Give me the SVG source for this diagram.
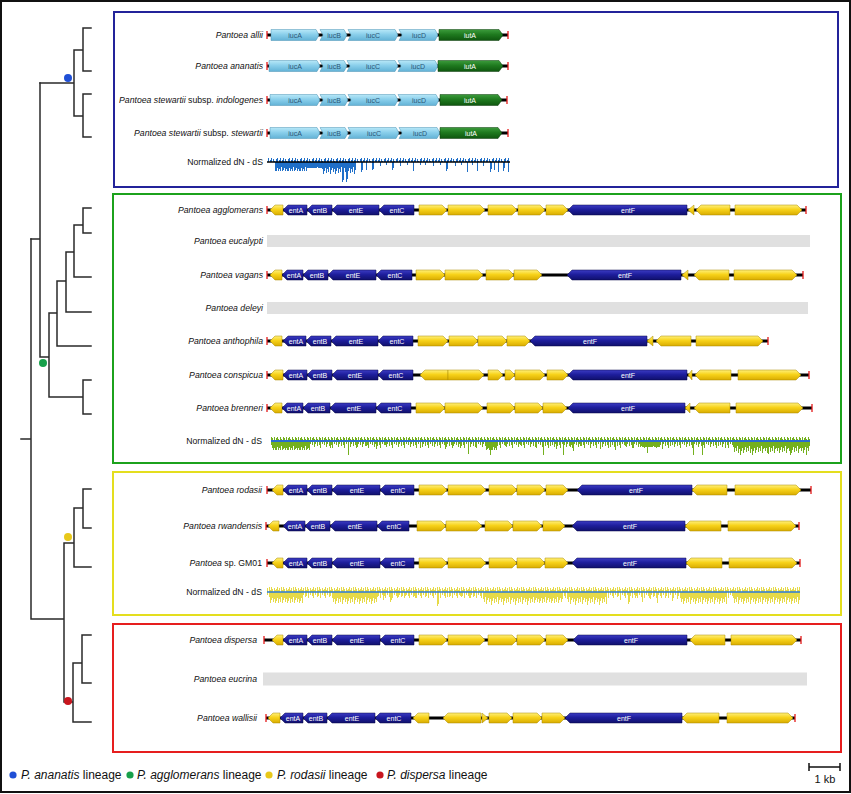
<svg xmlns="http://www.w3.org/2000/svg" width="851" height="794" viewBox="0 0 851 794">
<style>
text{font-family:"Liberation Sans",Arial,sans-serif}
.sp{font-size:8.7px;font-style:italic;text-anchor:end;fill:#111}
.up{font-style:normal}
.nd{font-size:8.7px;text-anchor:end;fill:#111}
.gl{font-size:7px;text-anchor:middle;fill:#fff}
.gd{font-size:7px;text-anchor:middle;fill:#2a5677}
.y{fill:url(#gy);stroke:#a88a00;stroke-width:0.5}
.b{fill:url(#gb);stroke:#08084a;stroke-width:0.5}
.lb{fill:url(#glb);stroke:#4b93b5;stroke-width:0.5}
.dg{fill:url(#gdg);stroke:#0a3a0a;stroke-width:0.5}
.bk{stroke:#000;stroke-width:3}
.rt{stroke:#e41a1a;stroke-width:1.3;fill:none}
.gray{fill:#e0e0e0}
.tr{stroke:#2a2a2a;stroke-width:1.5;fill:none;stroke-linecap:square}
.box{fill:none;stroke-width:2}
.lg{font-size:12px;fill:#111}
.bb{stroke:#1f6fc8;stroke-width:1;fill:none}
.bg{stroke:#74b01e;stroke-width:1;fill:none}
.by{stroke:#e6da48;stroke-width:1;fill:none}
</style>
<defs>
<linearGradient id="gy" x1="0" y1="0" x2="0" y2="1"><stop offset="0" stop-color="#fff07a"/><stop offset="0.45" stop-color="#f7d21a"/><stop offset="1" stop-color="#d9ac00"/></linearGradient>
<linearGradient id="gb" x1="0" y1="0" x2="0" y2="1"><stop offset="0" stop-color="#3c3cc4"/><stop offset="0.45" stop-color="#1e1e9c"/><stop offset="1" stop-color="#10106c"/></linearGradient>
<linearGradient id="glb" x1="0" y1="0" x2="0" y2="1"><stop offset="0" stop-color="#b8e8f8"/><stop offset="0.45" stop-color="#8acfeb"/><stop offset="1" stop-color="#62b2d6"/></linearGradient>
<linearGradient id="gdg" x1="0" y1="0" x2="0" y2="1"><stop offset="0" stop-color="#3c9c3c"/><stop offset="0.45" stop-color="#1f7a1f"/><stop offset="1" stop-color="#0e560e"/></linearGradient>
<pattern id="pub" width="12" height="6" y="-6" patternUnits="userSpaceOnUse"><path class="bb" d="M0.5 6v-3M1.5 6v-5M3.5 6v-2M4.5 6v-4M6.5 6v-2M7.5 6v-5M9.5 6v-3M10.5 6v-1"/></pattern>
<pattern id="pug" width="12" height="6" y="-6" patternUnits="userSpaceOnUse"><path class="bg" d="M0.5 6v-3M1.5 6v-5M2.5 6v-2M4.5 6v-4M5.5 6v-2M7.5 6v-5M8.5 6v-3M10.5 6v-4M11.5 6v-1"/></pattern>
<pattern id="puy" width="12" height="6" y="-6" patternUnits="userSpaceOnUse"><path class="by" d="M0.5 6v-3M1.5 6v-5M2.5 6v-2M3.5 6v-4M5.5 6v-5M6.5 6v-2M7.5 6v-5M8.5 6v-3M10.5 6v-4M11.5 6v-2"/></pattern>
<pattern id="plb" width="12" height="16" patternUnits="userSpaceOnUse"><path class="bb" d="M0.5 0v9M1.5 0v6M2.5 0v11M3.5 0v7M4.5 0v10M5.5 0v5M6.5 0v12M7.5 0v8M8.5 0v6M9.5 0v10M10.5 0v7M11.5 0v13"/></pattern>
<pattern id="plg" width="12" height="16" patternUnits="userSpaceOnUse"><path class="bg" d="M0.5 0v9M1.5 0v6M2.5 0v11M3.5 0v7M4.5 0v10M5.5 0v5M6.5 0v12M7.5 0v8M8.5 0v6M9.5 0v10M10.5 0v7M11.5 0v13"/></pattern>
<pattern id="ply" width="12" height="16" patternUnits="userSpaceOnUse"><path class="by" d="M0.5 0v9M1.5 0v6M2.5 0v11M3.5 0v7M4.5 0v10M5.5 0v5M6.5 0v12M7.5 0v8M8.5 0v6M9.5 0v10M10.5 0v7M11.5 0v13"/></pattern>
<pattern id="psg" width="12" height="16" patternUnits="userSpaceOnUse"><path class="bg" d="M0.5 0v4M2.5 0v6M3.5 0v3M5.5 0v5M7.5 0v4M8.5 0v7M10.5 0v3"/></pattern>
<pattern id="psy" width="12" height="16" patternUnits="userSpaceOnUse"><path class="by" d="M0.5 0v4M1.5 0v6M3.5 0v3M5.5 0v5M6.5 0v4M8.5 0v7M10.5 0v3"/></pattern>
</defs>
<rect x="0" y="0" width="851" height="794" fill="#fff"/>
<rect x="1" y="1" width="849" height="791" fill="none" stroke="#111" stroke-width="2"/>

<!-- phylogenetic tree -->
<g id="tree" class="tr">
<path d="M83,28H91M83,71H91M83,28V71M74,50H83M83,94H91M83,137H91M83,94V137M74,116H83M74,50V116M40,83H74"/>
<path d="M83,208H91M83,233H91M83,208V233M74,225H83M74,277H91M74,225V277M66,252H74M66,312H91M66,252V312M57,281H66M57,346H91M57,281V346M49,313H57M83,380H91M83,414H91M83,380V414M49,397H83M49,313V397M40,357H49M40,83V357M31,239H40"/>
<path d="M31,239V619M21,439H31M31,619H64M64,543V702M64,543H74M74,508V567M74,508H83M83,489V528M83,489H91M83,528H91M74,567H91M64,702H73M73,663V722M73,663H82M82,635V683M82,635H91M82,683H91M73,722H91"/>
</g>
<g id="clade-dots">
<circle cx="68" cy="78" r="4" fill="#1f4fd6"/>
<circle cx="43" cy="363" r="4" fill="#17a04a"/>
<circle cx="68" cy="537" r="4" fill="#e8c81a"/>
<circle cx="68" cy="701" r="4" fill="#c8161e"/>
</g>

<!-- lineage boxes -->
<g id="box-ananatis"><rect class="box" x="114" y="12" width="724" height="175" stroke="#23239a"/></g>
<g id="box-agglomerans"><rect class="box" x="113" y="194" width="728" height="269" stroke="#1ca21c"/></g>
<g id="box-rodasii"><rect class="box" x="113" y="472" width="728" height="143" stroke="#e4de1e"/></g>
<g id="box-dispersa"><rect class="box" x="113" y="624" width="728" height="128" stroke="#e61e1e"/></g>

<!-- P. ananatis lineage: iuc/iut cluster -->
<g id="row-allii" transform="translate(0,35)">
<text class="sp" x="263" y="3">Pantoea allii</text>
<line class="bk" x1="267" x2="508"/>
<polygon class="lb" points="271,-5.5 316,-5.5 319,0 316,5.5 271,5.5"/>
<polygon class="lb" points="320,-5.5 344,-5.5 347,0 344,5.5 320,5.5 323,0"/>
<polygon class="lb" points="348,-5.5 395,-5.5 398,0 395,5.5 348,5.5 351,0"/>
<polygon class="lb" points="399,-5.5 435,-5.5 438,0 435,5.5 399,5.5 402,0"/>
<polygon class="dg" points="439,-5.5 499,-5.5 503,0 499,5.5 439,5.5"/>
<text class="gd" x="295" y="2.5">iucA</text><text class="gd" x="334" y="2.5">iucB</text><text class="gd" x="373" y="2.5">iucC</text><text class="gd" x="419" y="2.5">iucD</text><text class="gl" x="470" y="2.5">iutA</text>
<path class="rt" d="M267,-4V4M508,-4V4"/>
</g>
<g id="row-ananatis" transform="translate(0,66)">
<text class="sp" x="263" y="3">Pantoea ananatis</text>
<line class="bk" x1="267" x2="508"/>
<polygon class="lb" points="269,-5.5 317,-5.5 320,0 317,5.5 269,5.5"/>
<polygon class="lb" points="320,-5.5 344,-5.5 347,0 344,5.5 320,5.5 323,0"/>
<polygon class="lb" points="347,-5.5 395,-5.5 398,0 395,5.5 347,5.5 350,0"/>
<polygon class="lb" points="398,-5.5 435,-5.5 438,0 435,5.5 398,5.5 401,0"/>
<polygon class="dg" points="438,-5.5 499,-5.5 503,0 499,5.5 438,5.5"/>
<text class="gd" x="295" y="2.5">iucA</text><text class="gd" x="334" y="2.5">iucB</text><text class="gd" x="373" y="2.5">iucC</text><text class="gd" x="418" y="2.5">iucD</text><text class="gl" x="470" y="2.5">iutA</text>
<path class="rt" d="M267,-4V4M508,-4V4"/>
</g>
<g id="row-indologenes" transform="translate(0,100)">
<text class="sp" x="263" y="3">Pantoea stewartii <tspan class="up">subsp.</tspan> indologenes</text>
<line class="bk" x1="267" x2="507"/>
<polygon class="lb" points="270,-5.5 317,-5.5 320,0 317,5.5 270,5.5"/>
<polygon class="lb" points="320,-5.5 345,-5.5 348,0 345,5.5 320,5.5 323,0"/>
<polygon class="lb" points="348,-5.5 395,-5.5 398,0 395,5.5 348,5.5 351,0"/>
<polygon class="lb" points="398,-5.5 436,-5.5 439,0 436,5.5 398,5.5 401,0"/>
<polygon class="dg" points="440,-5.5 498,-5.5 502,0 498,5.5 440,5.5"/>
<text class="gd" x="295" y="2.5">iucA</text><text class="gd" x="334" y="2.5">iucB</text><text class="gd" x="373" y="2.5">iucC</text><text class="gd" x="419" y="2.5">iucD</text><text class="gl" x="470" y="2.5">iutA</text>
<path class="rt" d="M267,-4V4M507,-4V4"/>
</g>
<g id="row-stewartii" transform="translate(0,133)">
<text class="sp" x="263" y="3">Pantoea stewartii <tspan class="up">subsp.</tspan> stewartii</text>
<line class="bk" x1="267" x2="508"/>
<polygon class="lb" points="270,-5.5 317,-5.5 320,0 317,5.5 270,5.5"/>
<polygon class="lb" points="320,-5.5 345,-5.5 348,0 345,5.5 320,5.5 323,0"/>
<polygon class="lb" points="348,-5.5 396,-5.5 399,0 396,5.5 348,5.5 351,0"/>
<polygon class="lb" points="399,-5.5 437,-5.5 440,0 437,5.5 399,5.5 402,0"/>
<polygon class="dg" points="440,-5.5 498,-5.5 502,0 498,5.5 440,5.5"/>
<text class="gd" x="295" y="2.5">iucA</text><text class="gd" x="334" y="2.5">iucB</text><text class="gd" x="374" y="2.5">iucC</text><text class="gd" x="420" y="2.5">iucD</text><text class="gl" x="471" y="2.5">iutA</text>
<path class="rt" d="M267,-4V4M508,-4V4"/>
</g>
<g id="dnds-ananatis" transform="translate(0,162)">
<text class="nd" x="263" y="3">Normalized dN - dS</text>
<rect x="268" y="-4" width="242" height="4" fill="url(#pub)"/>
<rect x="275" y="0" width="32" height="9" fill="url(#plb)"/>
<rect x="307" y="0" width="15" height="6" fill="url(#plb)"/>
<rect x="322" y="0" width="34" height="12" fill="url(#plb)"/>
<path class="bb" d="M342.5 0v20M343.5 0v18M346.5 0v20M347.5 0v17M361.5 0v10M362.5 0v8M366.5 0v8M372.5 0v8M373.5 0v7M380.5 0v4M386.5 0v3M392.5 0v8M393.5 0v6M400.5 0v4M407.5 0v3M413.5 0v9M420.5 0v3M425.5 0v3M433.5 0v4M440.5 0v3M446.5 0v9M447.5 0v7M455.5 0v4M461.5 0v3M467.5 0v10M472.5 0v3M477.5 0v9M483.5 0v4M490.5 0v10M491.5 0v7M494.5 0v8M498.5 0v10M503.5 0v9M504.5 0v6M508.5 0v10"/>
<line x1="267" x2="510" stroke="#000" stroke-width="1.5"/>
</g>

<!-- P. agglomerans lineage: ent cluster -->
<g id="row-agglomerans" transform="translate(0,210)">
<text class="sp" x="263" y="3">Pantoea agglomerans</text>
<line class="bk" x1="267" x2="806"/>
<polygon class="y" points="270,0 275,-5 283,-5 283,5 275,5"/>
<polygon class="b" points="283,0 288,-5 307,-5 307,5 288,5"/>
<polygon class="b" points="307,0 312,-5 332,-5 332,5 312,5"/>
<polygon class="b" points="332,0 337,-5 379,-5 379,5 337,5"/>
<polygon class="b" points="379,0 384,-5 414,-5 414,5 384,5"/>
<polygon class="y" points="419,-5 442,-5 447,0 442,5 419,5"/>
<polygon class="y" points="448,-5 480,-5 485,0 480,5 448,5"/>
<polygon class="y" points="488,-5 512,-5 517,0 512,5 488,5"/>
<polygon class="y" points="518,-5 540,-5 545,0 540,5 518,5"/>
<polygon class="y" points="546,-5 563,-5 568,0 563,5 546,5"/>
<polygon class="b" points="568,0 573,-5 687,-5 687,5 573,5"/>
<polygon class="y" points="688,0 694,-5 694,5"/>
<polygon class="y" points="696,0 701,-5 730,-5 730,5 701,5"/>
<polygon class="y" points="735,-5 797,-5 802,0 797,5 735,5"/>
<text class="gl" x="296" y="2.5">entA</text><text class="gl" x="320" y="2.5">entB</text><text class="gl" x="356" y="2.5">entE</text><text class="gl" x="397" y="2.5">entC</text><text class="gl" x="628" y="2.5">entF</text>
<path class="rt" d="M267,-4V4M806,-4V4"/>
</g>
<g id="row-eucalypti" transform="translate(0,241)">
<text class="sp" x="263" y="3">Pantoea eucalypti</text>
<rect class="gray" x="267" y="-6" width="543" height="12"/>
</g>
<g id="row-vagans" transform="translate(0,275)">
<text class="sp" x="263" y="3">Pantoea vagans</text>
<line class="bk" x1="267" x2="803"/>
<polygon class="y" points="270,0 275,-5 282,-5 282,5 275,5"/>
<polygon class="b" points="282,0 287,-5 303,-5 303,5 287,5"/>
<polygon class="b" points="303,0 308,-5 328,-5 328,5 308,5"/>
<polygon class="b" points="328,0 333,-5 376,-5 376,5 333,5"/>
<polygon class="b" points="376,0 381,-5 412,-5 412,5 381,5"/>
<polygon class="y" points="416,-5 440,-5 445,0 440,5 416,5"/>
<polygon class="y" points="445,-5 478,-5 483,0 478,5 445,5"/>
<polygon class="y" points="486,-5 509,-5 514,0 509,5 486,5"/>
<polygon class="y" points="514,-5 537,-5 542,0 537,5 514,5"/>
<polygon class="b" points="567,0 572,-5 681,-5 681,5 572,5"/>
<polygon class="y" points="682,0 688,-5 688,5"/>
<polygon class="y" points="694,0 699,-5 729,-5 729,5 699,5"/>
<polygon class="y" points="734,-5 792,-5 797,0 792,5 734,5"/>
<text class="gl" x="294" y="2.5">entA</text><text class="gl" x="317" y="2.5">entB</text><text class="gl" x="353" y="2.5">entE</text><text class="gl" x="395" y="2.5">entC</text><text class="gl" x="625" y="2.5">entF</text>
<path class="rt" d="M267,-4V4M803,-4V4"/>
</g>
<g id="row-deleyi" transform="translate(0,308)">
<text class="sp" x="263" y="3">Pantoea deleyi</text>
<rect class="gray" x="267" y="-6" width="541" height="12"/>
</g>
<g id="row-anthophila" transform="translate(0,341)">
<text class="sp" x="263" y="3">Pantoea anthophila</text>
<line class="bk" x1="267" x2="768"/>
<polygon class="y" points="270,0 275,-5 282,-5 282,5 275,5"/>
<polygon class="b" points="283,0 288,-5 306,-5 306,5 288,5"/>
<polygon class="b" points="306,0 311,-5 331,-5 331,5 311,5"/>
<polygon class="b" points="331,0 336,-5 378,-5 378,5 336,5"/>
<polygon class="b" points="378,0 383,-5 413,-5 413,5 383,5"/>
<polygon class="y" points="418,-5 443,-5 448,0 443,5 418,5"/>
<polygon class="y" points="449,-5 473,-5 478,0 473,5 449,5"/>
<polygon class="y" points="478,-5 502,-5 507,0 502,5 478,5"/>
<polygon class="y" points="507,-5 525,-5 530,0 525,5 507,5"/>
<polygon class="b" points="530,0 535,-5 647,-5 647,5 535,5"/>
<polygon class="y" points="647,0 653,-5 653,5"/>
<polygon class="y" points="656,0 661,-5 691,-5 691,5 661,5"/>
<polygon class="y" points="696,-5 758,-5 763,0 758,5 696,5"/>
<text class="gl" x="296" y="2.5">entA</text><text class="gl" x="320" y="2.5">entB</text><text class="gl" x="356" y="2.5">entE</text><text class="gl" x="397" y="2.5">entC</text><text class="gl" x="590" y="2.5">entF</text>
<path class="rt" d="M267,-4V4M768,-4V4"/>
</g>
<g id="row-conspicua" transform="translate(0,375)">
<text class="sp" x="263" y="3">Pantoea conspicua</text>
<line class="bk" x1="267" x2="809"/>
<polygon class="y" points="270,0 275,-5 283,-5 283,5 275,5"/>
<polygon class="b" points="283,0 288,-5 307,-5 307,5 288,5"/>
<polygon class="b" points="307,0 312,-5 332,-5 332,5 312,5"/>
<polygon class="b" points="332,0 337,-5 378,-5 378,5 337,5"/>
<polygon class="b" points="378,0 383,-5 413,-5 413,5 383,5"/>
<polygon class="y" points="420,0 425,-5 448,-5 448,5 425,5"/>
<polygon class="y" points="448,-5 479,-5 484,0 479,5 448,5"/>
<polygon class="y" points="488,-5 498,-5 503,0 498,5 488,5"/>
<polygon class="y" points="505,-5 510,-5 515,0 510,5 505,5"/>
<polygon class="y" points="515,-5 540,-5 545,0 540,5 515,5"/>
<polygon class="y" points="547,-5 563,-5 568,0 563,5 547,5"/>
<polygon class="b" points="568,0 573,-5 687,-5 687,5 573,5"/>
<polygon class="y" points="688,0 692,-5 692,5"/>
<polygon class="y" points="695,0 700,-5 731,-5 731,5 700,5"/>
<polygon class="y" points="738,-5 796,-5 801,0 796,5 738,5"/>
<text class="gl" x="296" y="2.5">entA</text><text class="gl" x="320" y="2.5">entB</text><text class="gl" x="355" y="2.5">entE</text><text class="gl" x="396" y="2.5">entC</text><text class="gl" x="628" y="2.5">entF</text>
<path class="rt" d="M267,-4V4M809,-4V4"/>
</g>
<g id="row-brenneri" transform="translate(0,408)">
<text class="sp" x="263" y="3">Pantoea brenneri</text>
<line class="bk" x1="267" x2="812"/>
<polygon class="y" points="270,0 275,-5 282,-5 282,5 275,5"/>
<polygon class="b" points="282,0 287,-5 303,-5 303,5 287,5"/>
<polygon class="b" points="303,0 308,-5 330,-5 330,5 308,5"/>
<polygon class="b" points="330,0 335,-5 376,-5 376,5 335,5"/>
<polygon class="b" points="376,0 381,-5 411,-5 411,5 381,5"/>
<polygon class="y" points="416,-5 440,-5 445,0 440,5 416,5"/>
<polygon class="y" points="445,-5 478,-5 483,0 478,5 445,5"/>
<polygon class="y" points="487,-5 510,-5 515,0 510,5 487,5"/>
<polygon class="y" points="515,-5 538,-5 543,0 538,5 515,5"/>
<polygon class="y" points="543,-5 562,-5 567,0 562,5 543,5"/>
<polygon class="b" points="568,0 573,-5 685,-5 685,5 573,5"/>
<polygon class="y" points="685,0 690,-5 690,5"/>
<polygon class="y" points="694,0 699,-5 730,-5 730,5 699,5"/>
<polygon class="y" points="736,-5 798,-5 803,0 798,5 736,5"/>
<text class="gl" x="294" y="2.5">entA</text><text class="gl" x="318" y="2.5">entB</text><text class="gl" x="354" y="2.5">entE</text><text class="gl" x="395" y="2.5">entC</text><text class="gl" x="628" y="2.5">entF</text>
<path class="rt" d="M267,-4V4M812,-4V4"/>
</g>
<g id="dnds-agglomerans" transform="translate(0,441)">
<text class="nd" x="262" y="3">Normalized dN - dS</text>
<rect x="271" y="-4" width="539" height="4" fill="url(#pug)"/>
<rect x="271" y="0" width="539" height="7" fill="url(#psg)"/>
<rect x="272" y="0" width="38" height="9" fill="url(#plg)"/>
<rect x="485" y="0" width="12" height="9" fill="url(#plg)"/>
<rect x="640" y="0" width="20" height="6" fill="url(#plg)"/>
<rect x="733" y="0" width="77" height="12" fill="url(#plg)"/>
<path class="bg" d="M330.5 0v7M348.5 0v14M357.5 0v6M366.5 0v5M376.5 0v8M385.5 0v4M398.5 0v6M410.5 0v5M420.5 0v7M432.5 0v5M445.5 0v8M453.5 0v5M460.5 0v7M468.5 0v13M475.5 0v6M490.5 0v14M505.5 0v5M512.5 0v7M520.5 0v4M535.5 0v6M543.5 0v14M550.5 0v5M556.5 0v8M563.5 0v14M570.5 0v6M573.5 0v10M580.5 0v5M590.5 0v7M600.5 0v8M610.5 0v6M615.5 0v9M625.5 0v5M633.5 0v7M647.5 0v12M655.5 0v6M662.5 0v8M670.5 0v5M680.5 0v6M693.5 0v14M702.5 0v14M710.5 0v6M718.5 0v5M725.5 0v7M740.5 0v14M752.5 0v14M768.5 0v13M790.5 0v14M806.5 0v14"/>
<line x1="271" x2="810" stroke="#2a6ad0" stroke-width="2"/>
</g>

<!-- P. rodasii lineage -->
<g id="row-rodasii" transform="translate(0,490)">
<text class="sp" x="262" y="3">Pantoea rodasii</text>
<line class="bk" x1="267" x2="811"/>
<polygon class="y" points="272,0 277,-5 283,-5 283,5 277,5"/>
<polygon class="b" points="283,0 288,-5 307,-5 307,5 288,5"/>
<polygon class="b" points="307,0 312,-5 332,-5 332,5 312,5"/>
<polygon class="b" points="332,0 337,-5 380,-5 380,5 337,5"/>
<polygon class="b" points="380,0 385,-5 414,-5 414,5 385,5"/>
<polygon class="y" points="419,-5 442,-5 447,0 442,5 419,5"/>
<polygon class="y" points="448,-5 481,-5 486,0 481,5 448,5"/>
<polygon class="y" points="489,-5 512,-5 517,0 512,5 489,5"/>
<polygon class="y" points="517,-5 540,-5 545,0 540,5 517,5"/>
<polygon class="y" points="546,-5 563,-5 568,0 563,5 546,5"/>
<polygon class="b" points="577,0 582,-5 692,-5 692,5 582,5"/>
<polygon class="y" points="692,0 697,-5 727,-5 727,5 697,5"/>
<polygon class="y" points="735,-5 796,-5 801,0 796,5 735,5"/>
<text class="gl" x="296" y="2.5">entA</text><text class="gl" x="320" y="2.5">entB</text><text class="gl" x="357" y="2.5">entE</text><text class="gl" x="398" y="2.5">entC</text><text class="gl" x="636" y="2.5">entF</text>
<path class="rt" d="M267,-4V4M811,-4V4"/>
</g>
<g id="row-rwandensis" transform="translate(0,526)">
<text class="sp" x="262" y="3">Pantoea rwandensis</text>
<line class="bk" x1="266" x2="799"/>
<polygon class="y" points="268,0 273,-5 279,-5 279,5 273,5"/>
<polygon class="b" points="283,0 288,-5 305,-5 305,5 288,5"/>
<polygon class="b" points="305,0 310,-5 330,-5 330,5 310,5"/>
<polygon class="b" points="330,0 335,-5 377,-5 377,5 335,5"/>
<polygon class="b" points="377,0 382,-5 409,-5 409,5 382,5"/>
<polygon class="y" points="417,-5 441,-5 446,0 441,5 417,5"/>
<polygon class="y" points="446,-5 477,-5 482,0 477,5 446,5"/>
<polygon class="y" points="485,-5 508,-5 513,0 508,5 485,5"/>
<polygon class="y" points="513,-5 537,-5 542,0 537,5 513,5"/>
<polygon class="y" points="543,-5 560,-5 565,0 560,5 543,5"/>
<polygon class="b" points="572,0 577,-5 685,-5 685,5 577,5"/>
<polygon class="y" points="685,0 690,-5 721,-5 721,5 690,5"/>
<polygon class="y" points="728,-5 791,-5 796,0 791,5 728,5"/>
<text class="gl" x="295" y="2.5">entA</text><text class="gl" x="318" y="2.5">entB</text><text class="gl" x="355" y="2.5">entE</text><text class="gl" x="394" y="2.5">entC</text><text class="gl" x="630" y="2.5">entF</text>
<path class="rt" d="M266,-4V4M799,-4V4"/>
</g>
<g id="row-gm01" transform="translate(0,563)">
<text class="sp" x="262" y="3">Pantoea <tspan class="up">sp. GM01</tspan></text>
<line class="bk" x1="267" x2="800"/>
<polygon class="y" points="272,0 277,-5 283,-5 283,5 277,5"/>
<polygon class="b" points="283,0 288,-5 307,-5 307,5 288,5"/>
<polygon class="b" points="307,0 312,-5 332,-5 332,5 312,5"/>
<polygon class="b" points="332,0 337,-5 380,-5 380,5 337,5"/>
<polygon class="b" points="380,0 385,-5 414,-5 414,5 385,5"/>
<polygon class="y" points="419,-5 442,-5 447,0 442,5 419,5"/>
<polygon class="y" points="448,-5 481,-5 486,0 481,5 448,5"/>
<polygon class="y" points="489,-5 512,-5 517,0 512,5 489,5"/>
<polygon class="y" points="517,-5 540,-5 545,0 540,5 517,5"/>
<polygon class="y" points="545,-5 563,-5 568,0 563,5 545,5"/>
<polygon class="b" points="572,0 577,-5 686,-5 686,5 577,5"/>
<polygon class="y" points="686,0 691,-5 722,-5 722,5 691,5"/>
<polygon class="y" points="729,-5 792,-5 797,0 792,5 729,5"/>
<text class="gl" x="296" y="2.5">entA</text><text class="gl" x="320" y="2.5">entB</text><text class="gl" x="357" y="2.5">entE</text><text class="gl" x="398" y="2.5">entC</text><text class="gl" x="630" y="2.5">entF</text>
<path class="rt" d="M267,-4V4M800,-4V4"/>
</g>
<g id="dnds-rodasii" transform="translate(0,592)">
<text class="nd" x="262" y="3">Normalized dN - dS</text>
<rect x="267" y="-5" width="533" height="5" fill="url(#puy)"/>
<rect x="267" y="0" width="533" height="6" fill="url(#psy)"/>
<rect x="270" y="0" width="33" height="11" fill="url(#ply)"/>
<rect x="332" y="0" width="45" height="12" fill="url(#ply)"/>
<rect x="483" y="0" width="47" height="13" fill="url(#ply)"/>
<rect x="530" y="0" width="33" height="11" fill="url(#ply)"/>
<rect x="567" y="0" width="40" height="13" fill="url(#ply)"/>
<rect x="680" y="0" width="47" height="12" fill="url(#ply)"/>
<rect x="733" y="0" width="67" height="12" fill="url(#ply)"/>
<path class="by" d="M383.5 0v8M390.5 0v10M391.5 0v8M398.5 0v5M405.5 0v4M415.5 0v6M425.5 0v4M437.5 0v14M438.5 0v12M447.5 0v5M460.5 0v4M470.5 0v6M620.5 0v8M628.5 0v12M629.5 0v10M635.5 0v6M642.5 0v10M650.5 0v7M657.5 0v11M665.5 0v6M672.5 0v9M677.5 0v7"/>
<line x1="267" x2="800" stroke="#2a7ad8" stroke-width="1.5"/>
</g>

<!-- P. dispersa lineage -->
<g id="row-dispersa" transform="translate(0,640)">
<text class="sp" x="257" y="3">Pantoea dispersa</text>
<line class="bk" x1="264" x2="801"/>
<polygon class="y" points="272,0 277,-5 283,-5 283,5 277,5"/>
<polygon class="b" points="283,0 288,-5 307,-5 307,5 288,5"/>
<polygon class="b" points="307,0 312,-5 332,-5 332,5 312,5"/>
<polygon class="b" points="332,0 337,-5 380,-5 380,5 337,5"/>
<polygon class="b" points="380,0 385,-5 414,-5 414,5 385,5"/>
<polygon class="y" points="419,-5 442,-5 447,0 442,5 419,5"/>
<polygon class="y" points="448,-5 480,-5 485,0 480,5 448,5"/>
<polygon class="y" points="488,-5 512,-5 517,0 512,5 488,5"/>
<polygon class="y" points="517,-5 540,-5 545,0 540,5 517,5"/>
<polygon class="y" points="546,-5 563,-5 568,0 563,5 546,5"/>
<polygon class="b" points="573,0 578,-5 687,-5 687,5 578,5"/>
<polygon class="y" points="690,0 695,-5 725,-5 725,5 695,5"/>
<polygon class="y" points="731,-5 792,-5 797,0 792,5 731,5"/>
<text class="gl" x="296" y="2.5">entA</text><text class="gl" x="320" y="2.5">entB</text><text class="gl" x="357" y="2.5">entE</text><text class="gl" x="398" y="2.5">entC</text><text class="gl" x="631" y="2.5">entF</text>
<path class="rt" d="M264,-4V4M801,-4V4"/>
</g>
<g id="row-eucrina" transform="translate(0,679)">
<text class="sp" x="257" y="3">Pantoea eucrina</text>
<rect class="gray" x="263" y="-6.5" width="544" height="13"/>
</g>
<g id="row-wallisii" transform="translate(0,718)">
<text class="sp" x="257" y="3">Pantoea wallisii</text>
<line class="bk" x1="266" x2="795"/>
<polygon class="y" points="268,0 273,-5 280,-5 280,5 273,5"/>
<polygon class="b" points="280,0 285,-5 303,-5 303,5 285,5"/>
<polygon class="b" points="303,0 308,-5 327,-5 327,5 308,5"/>
<polygon class="b" points="327,0 332,-5 375,-5 375,5 332,5"/>
<polygon class="b" points="375,0 380,-5 411,-5 411,5 380,5"/>
<polygon class="y" points="413,0 418,-5 429,-5 429,5 418,5"/>
<polygon class="y" points="443,0 448,-5 481,-5 481,5 448,5"/>
<polygon class="y" points="482,-5 488,0 482,5"/>
<polygon class="y" points="489,-5 507,-5 512,0 507,5 489,5"/>
<polygon class="y" points="513,-5 537,-5 542,0 537,5 513,5"/>
<polygon class="y" points="542,-5 560,-5 565,0 560,5 542,5"/>
<polygon class="b" points="565,0 570,-5 682,-5 682,5 570,5"/>
<polygon class="y" points="682,0 687,-5 719,-5 719,5 687,5"/>
<polygon class="y" points="727,-5 788,-5 793,0 788,5 727,5"/>
<text class="gl" x="293" y="2.5">entA</text><text class="gl" x="316" y="2.5">entB</text><text class="gl" x="352" y="2.5">entE</text><text class="gl" x="394" y="2.5">entC</text><text class="gl" x="624" y="2.5">entF</text>
<path class="rt" d="M266,-4V4M795,-4V4"/>
</g>

<!-- legend -->
<g id="legend">
<circle cx="13" cy="775" r="3.6" fill="#1f4fd6"/>
<text class="lg" x="21" y="779"><tspan font-style="italic">P. ananatis</tspan> lineage</text>
<circle cx="130" cy="775" r="3.6" fill="#17a04a"/>
<text class="lg" x="137" y="779"><tspan font-style="italic">P. agglomerans</tspan> lineage</text>
<circle cx="269" cy="775" r="3.6" fill="#e8c81a"/>
<text class="lg" x="277" y="779"><tspan font-style="italic">P. rodasii</tspan> lineage</text>
<circle cx="380" cy="775" r="3.6" fill="#c8161e"/>
<text class="lg" x="387" y="779"><tspan font-style="italic">P. dispersa</tspan> lineage</text>
</g>
<g id="scale-bar">
<path d="M809,767H840M809,763V771M840,763V771" stroke="#111" stroke-width="1.5" fill="none"/>
<text x="825" y="783" font-size="11" text-anchor="middle" fill="#111">1 kb</text>
</g>
</svg>
